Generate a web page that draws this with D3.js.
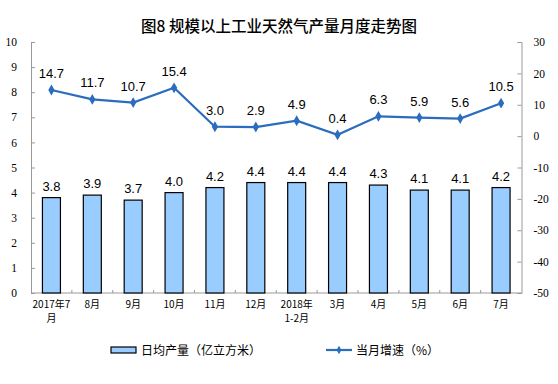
<!DOCTYPE html>
<html lang="zh">
<head>
<meta charset="UTF-8">
<title>图8</title>
<script src="https://d3js.org/d3.v7.min.js"></script>
<style>
  body { margin: 0; background: #fff; }
  svg text { fill: #000; }
</style>
</head>
<body>
<script>
// data
var months = ["2017年7月", "8月", "9月", "10月", "11月", "12月", "2018年1-2月", "3月", "4月", "5月", "6月", "7月"];
var monthLines = [["2017年7", "月"], ["8月"], ["9月"], ["10月"], ["11月"], ["12月"], ["2018年", "1-2月"], ["3月"], ["4月"], ["5月"], ["6月"], ["7月"]];
var dailyOutput = [3.8, 3.9, 3.7, 4.0, 4.2, 4.4, 4.4, 4.4, 4.3, 4.1, 4.1, 4.2];
var growth = [14.7, 11.7, 10.7, 15.4, 3.0, 2.9, 4.9, 0.4, 6.3, 5.9, 5.6, 10.5];
var leftTicks = d3.range(0, 11, 1);
var rightTicks = d3.range(-50, 31, 10);

var W = 558, H = 384;
var padL = 31, padR = 521.5, padT = 42, padB = 293;
var cjk = "'Noto Sans CJK SC', sans-serif";
var serif = "'Liberation Serif', 'DejaVu Serif', serif";
var sans = "'Liberation Sans', Arial, sans-serif";
var axisColor = "#999";
var lineColor = "#2a6cbd";

var svg = d3.select("body").append("svg")
    .attr("width", W)
    .attr("height", H);

svg.append("text")
    .attr("x", 279).attr("y", 32)
    .attr("text-anchor", "middle")
    .style("font-family", cjk)
    .style("font-size", "15.5px")
    .style("font-weight", "500")
    .text("图8  规模以上工业天然气产量月度走势图");

var x = d3.scaleBand().domain(months).range([padL, padR]);
var yL = d3.scaleLinear().domain([0, 10]).range([padB, padT]);
var yR = d3.scaleLinear().domain([-50, 30]).range([padB, padT]);

// left axis
var gL = svg.append("g").attr("transform", "translate(" + padL + ",0)")
    .call(d3.axisLeft(yL).tickValues(leftTicks).tickFormat(function (d) { return String(d); })
      .tickSizeInner(-4).tickSizeOuter(-4).tickPadding(14));
// right axis
var gR = svg.append("g").attr("transform", "translate(" + padR + ",0)")
    .call(d3.axisRight(yR).tickValues(rightTicks).tickFormat(function (d) { return String(d); })
      .tickSizeInner(-4).tickSizeOuter(-4).tickPadding(12));
[gL, gR].forEach(function (g) {
  g.selectAll("path, line").attr("stroke", axisColor);
  g.selectAll("text").style("font-family", serif).style("font-size", "11.5px").attr("fill", "#000");
});
gR.selectAll("text").attr("text-anchor", "start");

// bottom axis line + boundary ticks
svg.append("line").attr("x1", padL).attr("x2", padR).attr("y1", padB).attr("y2", padB).attr("stroke", axisColor);
svg.selectAll(".xtick").data(months.slice(1)).enter().append("line")
    .attr("x1", function (d) { return x(d); }).attr("x2", function (d) { return x(d); })
    .attr("y1", padB).attr("y2", padB - 3)
    .attr("stroke", axisColor);

// category labels
var lab = svg.selectAll(".xlab").data(months).enter().append("text")
    .attr("text-anchor", "middle")
    .attr("transform", function (d) { return "translate(" + (x(d) + x.bandwidth() / 2) + "," + (padB + 15) + ")"; })
    .style("font-family", cjk)
    .style("font-size", "10px");
lab.each(function (d, i) {
  var t = d3.select(this);
  monthLines[i].forEach(function (s, j) {
    t.append("tspan").attr("x", 0).attr("dy", j === 0 ? 0 : 14).text(s);
  });
});

// bars
var bw = 18;
svg.selectAll(".bar").data(dailyOutput).enter().append("rect")
    .attr("x", function (d, i) { return x(months[i]) + x.bandwidth() / 2 - bw / 2; })
    .attr("y", function (d) { return yL(d); })
    .attr("width", bw)
    .attr("height", function (d) { return padB - yL(d); })
    .attr("fill", "#99ccff")
    .attr("stroke", "#000")
    .attr("stroke-width", 1.2);
svg.selectAll(".barlab").data(dailyOutput).enter().append("text")
    .attr("x", function (d, i) { return x(months[i]) + x.bandwidth() / 2; })
    .attr("y", function (d) { return yL(d) - 7; })
    .attr("text-anchor", "middle")
    .style("font-family", sans)
    .style("font-size", "13px")
    .text(function (d) { return d.toFixed(1); });

// line
var line = d3.line()
    .x(function (d, i) { return x(months[i]) + x.bandwidth() / 2; })
    .y(function (d) { return yR(d); });
svg.append("path").datum(growth)
    .attr("d", line)
    .attr("fill", "none")
    .attr("stroke", lineColor)
    .attr("stroke-width", 2.2);
svg.selectAll(".pt").data(growth).enter().append("path")
    .attr("d", d3.symbol().type(d3.symbolDiamond).size(34))
    .attr("transform", function (d, i) { return "translate(" + (x(months[i]) + x.bandwidth() / 2) + "," + yR(d) + ")"; })
    .attr("fill", lineColor);
svg.selectAll(".ptlab").data(growth).enter().append("text")
    .attr("x", function (d, i) { return x(months[i]) + x.bandwidth() / 2; })
    .attr("y", function (d) { return yR(d) - 12; })
    .attr("text-anchor", "middle")
    .style("font-family", sans)
    .style("font-size", "13px")
    .text(function (d) { return d.toFixed(1); });

// legend
svg.append("rect").attr("x", 111).attr("y", 347).attr("width", 25).attr("height", 6)
    .attr("fill", "#99ccff").attr("stroke", "#000").attr("stroke-width", 1.2);
svg.append("text").attr("x", 141).attr("y", 355)
    .style("font-family", cjk).style("font-size", "12px")
    .text("日均产量（亿立方米）");
svg.append("line").attr("x1", 326).attr("x2", 352).attr("y1", 350).attr("y2", 350)
    .attr("stroke", lineColor).attr("stroke-width", 2.2);
svg.append("path").attr("d", d3.symbol().type(d3.symbolDiamond).size(20))
    .attr("transform", "translate(339,350)").attr("fill", lineColor);
svg.append("text").attr("x", 356).attr("y", 355)
    .style("font-family", cjk).style("font-size", "12px")
    .text("当月增速（%）");
</script>
</body>
</html>
